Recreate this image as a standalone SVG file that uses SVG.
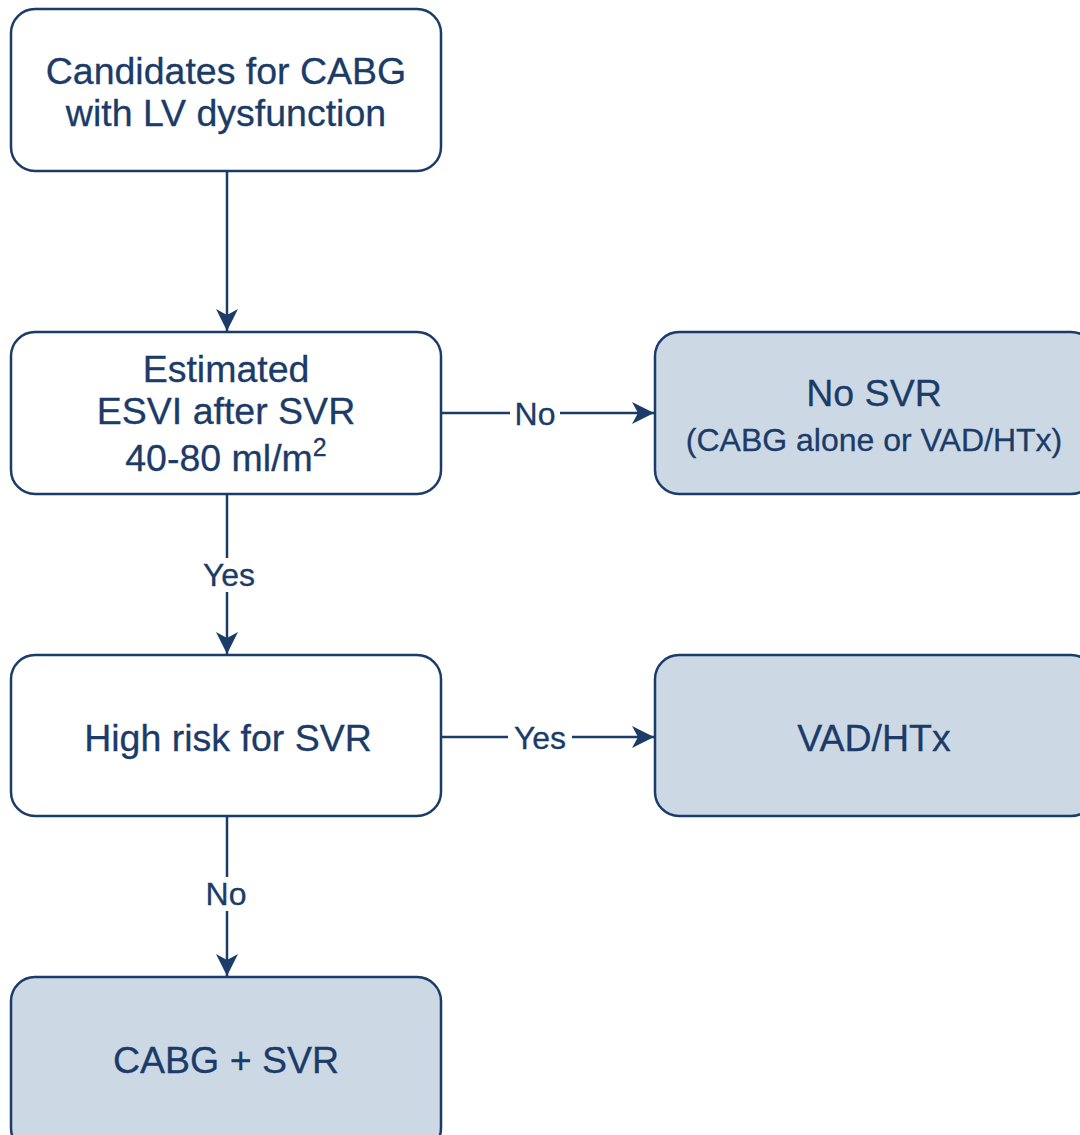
<svg xmlns="http://www.w3.org/2000/svg" width="1080" height="1135" viewBox="0 0 1080 1135">
<defs>
<marker id="ah" markerWidth="22" markerHeight="22" refX="22" refY="11" orient="auto" markerUnits="userSpaceOnUse">
<path d="M0,0 L22,11 L0,22 L6,11 Z" fill="#1b3b68"/>
</marker>
</defs>
<style>
.box{fill:#ffffff;stroke:#1b3b68;stroke-width:2.5}
.dark{fill:#ccd9e5;stroke:#1b3b68;stroke-width:2.5}
text{font-family:"Liberation Sans",Arial,sans-serif;fill:#1b3b68;text-anchor:middle;stroke:#1b3b68;stroke-width:0.3}
.t{font-size:37.5px}
.s{font-size:32px}
.lbl{font-size:32px}
.edge{stroke:#1b3b68;stroke-width:2.5;fill:none;marker-end:url(#ah)}
</style>
<rect width="1080" height="1135" fill="#ffffff"/>
<g id="connectors">
<line class="edge" x1="227" y1="171" x2="227" y2="331"/>
<line class="edge" x1="227" y1="494" x2="227" y2="654"/>
<line class="edge" x1="227" y1="816" x2="227" y2="976"/>
<line class="edge" x1="441" y1="413" x2="654" y2="413"/>
<line class="edge" x1="441" y1="737" x2="654" y2="737"/>
<rect x="510" y="397" width="50" height="34" fill="#ffffff"/>
<text class="lbl" x="535" y="425">No</text>
<rect x="508" y="721" width="64" height="34" fill="#ffffff"/>
<text class="lbl" x="540" y="749">Yes</text>
<rect x="196" y="558" width="64" height="34" fill="#ffffff"/>
<text class="lbl" x="229" y="586">Yes</text>
<rect x="201" y="877" width="52" height="34" fill="#ffffff"/>
<text class="lbl" x="226" y="905">No</text>
</g>
<g id="n1">
<rect class="box" x="11" y="9" width="430" height="162" rx="24"/>
<text class="t" x="226" y="84">Candidates for CABG</text>
<text class="t" x="226" y="126">with LV dysfunction</text>
</g>
<g id="n2">
<rect class="box" x="11" y="332" width="430" height="162" rx="24"/>
<text class="t" x="226" y="382">Estimated</text>
<text class="t" x="226" y="424">ESVI after SVR</text>
<text class="t" x="226" y="471">40-80 ml/m<tspan dy="-15" font-size="25">2</tspan></text>
</g>
<g id="n3">
<rect class="dark" x="655" y="332" width="440" height="162" rx="24"/>
<text class="t" x="874" y="406">No SVR</text>
<text class="s" x="874" y="451">(CABG alone or VAD/HTx)</text>
</g>
<g id="n4">
<rect class="box" x="11" y="655" width="430" height="161" rx="24"/>
<text class="t" x="228" y="751">High risk for SVR</text>
</g>
<g id="n5">
<rect class="dark" x="655" y="655" width="440" height="161" rx="24"/>
<text class="t" x="874" y="751">VAD/HTx</text>
</g>
<g id="n6">
<rect class="dark" x="11" y="977" width="430" height="175" rx="24"/>
<text class="t" x="226" y="1073">CABG + SVR</text>
</g>
</svg>
